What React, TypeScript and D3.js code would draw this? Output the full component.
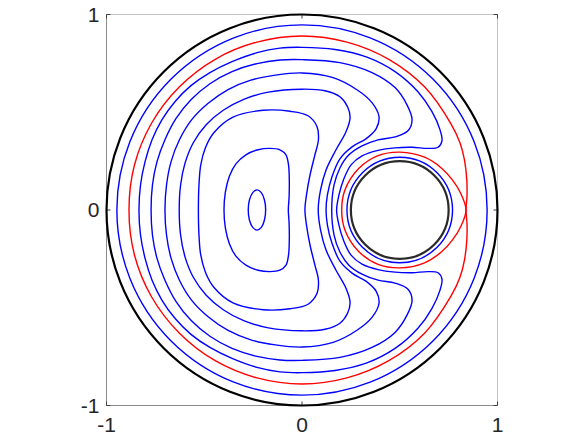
import React from "react";
import * as d3 from "d3";

// streamline traces, upper half only (y >= 0),
// from the left crossing of y = 0 over the top to the right crossing.
// the plot is symmetric about y = 0, the lower half is mirrored below.
const eddyCore = [
  [-0.275, 0], [-0.269, 0.051], [-0.252, 0.089], [-0.23, 0.103],
  [-0.208, 0.089], [-0.192, 0.051], [-0.186, 0],
];
const eddy2 = [
  [-0.399, 0], [-0.392, 0.092], [-0.371, 0.174], [-0.338, 0.236], [-0.287, 0.282],
  [-0.225, 0.308], [-0.164, 0.315], [-0.113, 0.308], [-0.082, 0.282], [-0.069, 0.231],
  [-0.065, 0.154], [-0.066, 0.067], [-0.07, 0],
];
const eddy3 = [
  [-0.53, 0], [-0.527, 0.128], [-0.518, 0.23], [-0.494, 0.318], [-0.451, 0.395],
  [-0.353, 0.475], [-0.199, 0.51], [-0.061, 0.505], [0.031, 0.482], [0.077, 0.426],
  [0.084, 0.359], [0.066, 0.282], [0.041, 0.179], [0.023, 0.077], [0.015, 0],
];
const eddy4 = [
  [-0.628, 0], [-0.621, 0.128], [-0.598, 0.241], [-0.556, 0.344], [-0.49, 0.436],
  [-0.403, 0.51], [-0.298, 0.566], [-0.172, 0.603], [0, 0.618], [0.118, 0.61],
  [0.194, 0.579], [0.233, 0.528], [0.246, 0.472], [0.225, 0.4], [0.174, 0.308],
  [0.123, 0.205], [0.095, 0.103], [0.083, 0],
];
const eddy5 = [
  [-0.701, 0], [-0.693, 0.128], [-0.67, 0.246], [-0.627, 0.359], [-0.564, 0.462],
  [-0.48, 0.546], [-0.378, 0.616], [-0.262, 0.664], [-0.136, 0.69], [0, 0.701],
  [0.159, 0.677], [0.281, 0.615], [0.358, 0.549], [0.394, 0.477], [0.379, 0.415],
  [0.327, 0.364], [0.256, 0.323], [0.194, 0.262], [0.153, 0.169], [0.13, 0.077],
  [0.123, 0],
];
const eddy6 = [
  [-0.772, 0], [-0.765, 0.128], [-0.742, 0.246], [-0.701, 0.359], [-0.645, 0.467],
  [-0.568, 0.564], [-0.471, 0.646], [-0.358, 0.708], [-0.23, 0.749], [-0.113, 0.767],
  [0, 0.769], [0.194, 0.754], [0.358, 0.703], [0.476, 0.626], [0.537, 0.538],
  [0.563, 0.462], [0.542, 0.405], [0.476, 0.374], [0.389, 0.359], [0.307, 0.328],
  [0.24, 0.282], [0.194, 0.215], [0.164, 0.128], [0.152, 0],
];
const eddy7 = [
  [-0.834, 0], [-0.826, 0.128], [-0.803, 0.246], [-0.767, 0.359], [-0.716, 0.462],
  [-0.65, 0.554], [-0.568, 0.636], [-0.471, 0.703], [-0.358, 0.759], [-0.23, 0.805],
  [-0.113, 0.828], [0, 0.832], [0.169, 0.821], [0.332, 0.782], [0.476, 0.708],
  [0.593, 0.605], [0.665, 0.503], [0.706, 0.41], [0.716, 0.354], [0.696, 0.321],
  [0.645, 0.315], [0.563, 0.321], [0.476, 0.318], [0.389, 0.305], [0.307, 0.277],
  [0.251, 0.231], [0.212, 0.154], [0.189, 0.077], [0.177, 0],
];
// separatrix: outer branch and the loop round the inner cylinder, meeting at the saddle
const sepOuter = [
  [-0.885, 0], [-0.857, 0.23], [-0.769, 0.445], [-0.628, 0.629], [-0.444, 0.771],
  [-0.23, 0.859], [0, 0.89], [0.23, 0.859], [0.444, 0.771], [0.628, 0.629],
  [0.762, 0.441], [0.808, 0.344], [0.831, 0.256], [0.843, 0.154], [0.844, 0.072],
  [0.839, 0],
];
const sepInner = [
  [0.203, 0], [0.22, 0.103], [0.29, 0.212], [0.389, 0.278], [0.501, 0.296],
  [0.627, 0.27], [0.714, 0.214], [0.769, 0.154], [0.811, 0.087], [0.839, 0],
];

const blueTraces = [eddyCore, eddy2, eddy3, eddy4, eddy5, eddy6, eddy7];
const redTraces = [sepOuter, sepInner];

// nearly circular streamlines next to the walls
const blueRings = [
  { cx: 0, cy: 0, r: 0.947 },
  { cx: 0.5, cy: 0, r: 0.27 },
];
const walls = [
  { cx: 0, cy: 0, r: 1, color: "#000000" },
  { cx: 0.5, cy: 0, r: 0.25, color: "#2a2a2a" },
];

const ticks = [-1, 0, 1];
const tickLabels = ["-1", "0", "1"];

const W = 585;
const H = 439;

const mirror = (upper: number[][]) => [
  ...upper,
  ...upper.slice(1, -1).reverse().map(([a, b]) => [a, -b]),
];

export default function App() {
  const x = d3.scaleLinear().domain([-1, 1]).range([106.5, 497.5]);
  const y = d3.scaleLinear().domain([-1, 1]).range([405.5, 14.5]);
  const rad = (r: number) => x(r) - x(0);

  const line = d3
    .line<number[]>()
    .x((d) => x(d[0]))
    .y((d) => y(d[1]))
    .curve(d3.curveCatmullRomClosed.alpha(0.5));

  const font = "'Liberation Sans', Arial, Helvetica, sans-serif";

  return (
    <svg
      width={W}
      height={H}
      style={{ position: "absolute", left: 0, top: 0, background: "#fff" }}
    >
      {/* axes box */}
      <line x1={x(-1)} x2={x(1)} y1={y(1)} y2={y(1)} stroke="#c4c4c4" />
      <line x1={x(1)} x2={x(1)} y1={y(-1)} y2={y(1)} stroke="#c4c4c4" />
      <line x1={x(-1)} x2={x(1)} y1={y(-1)} y2={y(-1)} stroke="#8c8c8c" />
      <line x1={x(-1)} x2={x(-1)} y1={y(-1)} y2={y(1)} stroke="#8c8c8c" />
      {ticks.map((t) => (
        <g key={"t" + t} stroke="#404040">
          <line x1={x(t)} x2={x(t)} y1={y(-1)} y2={y(-1) - 4} />
          <line x1={x(t)} x2={x(t)} y1={y(1)} y2={y(1) + 4} />
          <line x1={x(-1)} x2={x(-1) + 4} y1={y(t)} y2={y(t)} />
          <line x1={x(1)} x2={x(1) - 4} y1={y(t)} y2={y(t)} />
        </g>
      ))}

      {blueTraces.map((d, i) => (
        <path key={"b" + i} d={line(mirror(d)) || ""} fill="none" stroke="#0000ff" strokeWidth={1.4} />
      ))}
      {blueRings.map((c, i) => (
        <circle key={"r" + i} cx={x(c.cx)} cy={y(c.cy)} r={rad(c.r)} fill="none" stroke="#0000ff" strokeWidth={1.4} />
      ))}
      {redTraces.map((d, i) => (
        <path key={"s" + i} d={line(mirror(d)) || ""} fill="none" stroke="#ff0000" strokeWidth={1.4} />
      ))}
      {walls.map((c, i) => (
        <circle key={"w" + i} cx={x(c.cx)} cy={y(c.cy)} r={rad(c.r)} fill="none" stroke={c.color} strokeWidth={2.2} />
      ))}

      {ticks.map((t, i) => (
        <text key={"xl" + t} x={x(t)} y={432} textAnchor="middle" fontFamily={font} fontSize={21} fill="#262626">
          {tickLabels[i]}
        </text>
      ))}
      {ticks.map((t, i) => (
        <text key={"yl" + t} x={x(-1) - 7} y={y(t)} dy="0.35em" textAnchor="end" fontFamily={font} fontSize={21} fill="#262626">
          {tickLabels[i]}
        </text>
      ))}
    </svg>
  );
}
